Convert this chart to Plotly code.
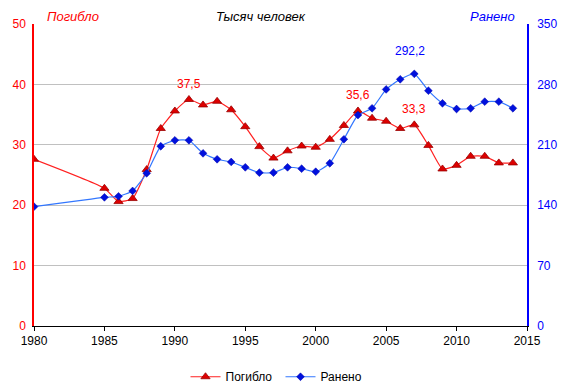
import plotly.graph_objects as go

years = [1980, 1985, 1986, 1987, 1988, 1989, 1990, 1991, 1992, 1993, 1994, 1995, 1996, 1997,
         1998, 1999, 2000, 2001, 2002, 2003, 2004, 2005, 2006, 2007, 2008, 2009, 2010, 2011,
         2012, 2013, 2014]
killed = [27.6, 22.8, 20.6, 21.1, 25.9, 32.7, 35.6, 37.5, 36.6, 37.2, 35.8, 33.0, 29.7, 27.8,
          29.0, 29.8, 29.6, 30.9, 33.2, 35.6, 34.4, 33.9, 32.7, 33.3, 29.9, 26.0, 26.6, 28.1,
          28.1, 27.0, 27.0]
injured = [138.3, 149.1, 150.3, 156.5, 177.0, 208.3, 215.2, 215.2, 200.1, 193.2, 190.1, 183.9,
           177.7, 177.7, 183.9, 182.3, 178.8, 188.6, 216.4, 244.5, 252.3, 274.2, 285.9, 292.2,
           272.7, 258.1, 251.5, 252.3, 260.0, 260.0, 252.3]

killed_labels = {1991: "37,5", 2003: "35,6", 2007: "33,3"}
injured_labels = {2007: "292,2"}

RED = "#FF0000"
BLUE = "#0000FF"
FONT = "Liberation Sans, Arial, sans-serif"

fig = go.Figure()
fig.add_trace(go.Scatter(
    x=years, y=killed, name="Погибло", mode="lines+markers",
    line=dict(color="#FF2020", width=1.2, shape="spline", smoothing=0.5),
    marker=dict(symbol="triangle-up", size=8, color="#DD0000", line=dict(color="#990000", width=0.8)),
    yaxis="y"))
fig.add_trace(go.Scatter(
    x=years, y=injured, name="Ранено", mode="lines+markers",
    line=dict(color="#3377FF", width=1.2, shape="spline", smoothing=0.5),
    marker=dict(symbol="diamond", size=6, color="#0010DD", line=dict(color="#0000AA", width=0.5)),
    yaxis="y2"))

annotations = []
for yr, txt in killed_labels.items():
    v = killed[years.index(yr)]
    annotations.append(dict(x=yr, y=v, xref="x", yref="y", text=txt, showarrow=False,
                            yshift=16, font=dict(color=RED, size=12, family=FONT)))
for yr, txt in injured_labels.items():
    v = injured[years.index(yr)]
    annotations.append(dict(x=yr, y=v, xref="x", yref="y2", text=txt, showarrow=False,
                            yshift=23, xshift=-4, font=dict(color=BLUE, size=12, family=FONT)))
annotations += [
    dict(x=0.022, y=1.0, xref="paper", yref="paper", text="<i>Погибло</i>", showarrow=False,
         xanchor="left", yanchor="bottom", yshift=-2, font=dict(color=RED, size=13, family=FONT)),
    dict(x=0.46, y=1.0, xref="paper", yref="paper", text="<i>Тысяч человек</i>", showarrow=False,
         xanchor="center", yanchor="bottom", yshift=-2, font=dict(color="black", size=13, family=FONT)),
    dict(x=0.98, y=1.0, xref="paper", yref="paper", text="<i>Ранено</i>", showarrow=False,
         xanchor="right", yanchor="bottom", yshift=-2, font=dict(color=BLUE, size=13, family=FONT)),
]

fig.update_layout(
    width=561, height=391,
    margin=dict(l=34, r=34, t=24, b=65, autoexpand=False),
    paper_bgcolor="white", plot_bgcolor="white",
    font=dict(family=FONT, size=12, color="black"),
    showlegend=True,
    legend=dict(orientation="h", x=0.5, xanchor="center", y=-0.12, yanchor="top",
                font=dict(size=12, color="black"), itemwidth=30,
                entrywidth=50, entrywidthmode="pixels"),
    xaxis=dict(range=[1980, 2015], dtick=5, tick0=1980, showgrid=False, showline=True,
               linecolor="black", linewidth=1, ticks="outside", ticklen=4, tickcolor="black",
               tickfont=dict(color="black", size=12), zeroline=False, automargin=False),
    yaxis=dict(range=[0, 50], dtick=10, showgrid=True, gridcolor="#C0C0C0", gridwidth=1,
               showline=True, linecolor=RED, linewidth=1.5, ticks="", zeroline=False,
               tickfont=dict(color=RED, size=12), automargin=False, ticklabelstandoff=4),
    yaxis2=dict(range=[0, 350], dtick=70, overlaying="y", side="right", showgrid=False,
                showline=True, linecolor=BLUE, linewidth=1.5, ticks="", zeroline=False,
                tickfont=dict(color=BLUE, size=12), automargin=False, ticklabelstandoff=6),
    annotations=annotations,
)

fig.write_html("out.html", config={"displayModeBar": False},
               post_script="document.body.style.margin='0';document.body.style.overflow='hidden';")
